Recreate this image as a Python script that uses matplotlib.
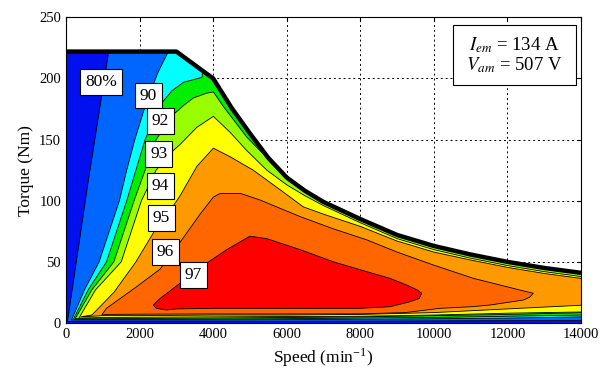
import matplotlib
matplotlib.use("Agg")
import matplotlib.pyplot as plt
from matplotlib.patches import Polygon, Rectangle

plt.rcParams['font.family'] = ['Liberation Serif', 'DejaVu Serif']
plt.rcParams['mathtext.fontset'] = 'stix'

# torque envelope (speed in min^-1, torque in Nm)
env_speed = [0, 3000, 4000, 4500, 5000, 5500, 6000, 6500, 7000, 8000, 9000, 10000, 11000, 12000, 13000, 14000]
env_torque = [222, 222, 200, 176, 155, 135, 119, 108, 99, 85, 72, 63, 56, 50, 45, 41]

# boundaries of the regions "efficiency >= level"
eff80_speed = [40, 600, 1160, 1300, 14500, 14500, 11000, 8000, 4000, 1000]
eff80_torque = [1.3, 115, 222, 250, 250, 2, 1.8, 1.5, 1.3, 1.3]

eff90_speed = [150, 500, 900, 1450, 1650, 1870, 2180, 2500, 2780, 2880, 14500, 14500,
               14000, 12000, 10000, 8000, 4000, 1000]
eff90_torque = [2.5, 27, 50, 100, 125, 150, 180, 205, 222, 250, 250, 5,
                5, 4, 3.5, 3, 2.5, 2.5]

eff92_speed = [200, 600, 1100, 1650, 1900, 2150, 2520, 2880, 3200, 3460, 3700, 3800, 14500, 14500,
               14000, 12000, 10000, 8000, 4000, 1000]
eff92_torque = [3, 27, 50, 100, 125, 150, 177, 190, 197, 199, 201, 250, 250, 6.5,
                6.5, 5.5, 4.5, 4, 3, 3]

eff93_speed = [250, 700, 1300, 1850, 2150, 2450, 2900, 3200, 3460, 3825, 4005, 4280, 4915, 5820,
               6000, 14500, 14500, 14000, 12000, 10000, 8000, 4000, 1000]
eff93_torque = [3.5, 27, 50, 100, 125, 150, 170, 178, 184, 188, 189, 177, 152, 124,
                150, 150, 8.4, 8.4, 7, 6, 5, 4, 3.5]

eff94_speed = [350, 800, 1500, 2050, 2450, 2800, 3100, 3555, 4005, 4460, 4915, 5460, 6000, 6500, 7000,
               8000, 9000, 10000, 11000, 12000, 13000, 14000, 14500,
               14500, 14000, 12000, 10000, 8000, 4000, 1000]
eff94_torque = [4, 27, 50, 100, 125, 138, 146, 160, 169, 156, 141, 125, 113, 104, 96,
                82, 69, 60, 53, 47, 42, 38, 37,
                9, 9, 8, 6.5, 5.5, 5, 4.5]

eff95_speed = [400, 700, 835, 1300, 1900, 2400, 2830, 3100, 3555, 4005, 4460, 5090, 5820, 6450, 7000,
               8000, 9000, 10000, 11000, 12000, 13000, 14000, 14500,
               14500, 14000, 13000, 12000, 11000, 10000, 8000, 6000, 4000, 2000, 1000]
eff95_torque = [5, 6.5, 10.6, 25, 50, 75, 92, 104, 128, 143, 136, 125, 109, 95, 89,
                79, 67, 58, 51.5, 45.5, 40.5, 36.5, 35.5,
                14.5, 14.5, 13, 11.5, 10, 8.5, 7, 6.5, 6.5, 6, 6]

eff96_speed = [970, 1100, 1920, 2555, 3100, 3645, 4005, 4190, 4740, 5275, 6365, 7270, 8175, 9000,
               9990, 11075, 11980, 12400, 12705, 12600, 12435, 11530, 11030, 10170, 9220,
               8000, 6000, 4000, 2000, 1100]
eff96_torque = [6.5, 12, 29.7, 44, 66, 89, 103, 106, 106, 100.6, 87, 77, 68, 58,
                47.4, 36.5, 29.7, 26.5, 24.3, 21, 18.8, 14.7, 13.3, 12, 8.5,
                7.5, 7.4, 7.4, 7.2, 7]

eff97_speed = [2375, 2555, 3100, 3825, 4370, 5000, 5455, 6365, 7270, 8175, 8810, 9265, 9550, 9670,
               9600, 9355, 8810, 8000, 6000, 4000, 3000, 2740, 2450]
eff97_torque = [14.7, 20, 32.5, 49, 60, 71, 69, 60, 50, 42, 36.5, 31, 27, 24.3,
                20, 17.4, 13.3, 12, 12, 12, 11.5, 10.6, 12]

regions = [
    (eff80_speed, eff80_torque, '#0066ff'),
    (eff90_speed, eff90_torque, '#00ffff'),
    (eff92_speed, eff92_torque, '#00ee00'),
    (eff93_speed, eff93_torque, '#99ff00'),
    (eff94_speed, eff94_torque, '#ffff00'),
    (eff95_speed, eff95_torque, '#ff9900'),
    (eff96_speed, eff96_torque, '#ff6600'),
    (eff97_speed, eff97_torque, '#ff0000'),
]

label_text = ['80%', '90', '92', '93', '94', '95', '96', '97']
label_speed = [950, 2230, 2556, 2520, 2556, 2583, 2692, 3453]
label_torque = [197, 186, 165.5, 138.3, 112, 86, 58, 39.2]

fig = plt.figure(figsize=(6.08, 3.83), dpi=100)
ax = fig.add_axes([0.1086, 0.1567, 0.847, 0.798])

# area under the envelope, lowest efficiency colour
env_pts = list(zip(env_speed, env_torque)) + [(14000, 0), (0, 0)]
env_patch = Polygon(env_pts, closed=True, facecolor='#0010ee', edgecolor='none', zorder=2)
ax.add_patch(env_patch)

for sp, tq, col in regions:
    p = Polygon(list(zip(sp, tq)), closed=True, facecolor=col, edgecolor='k', lw=0.6, zorder=3)
    ax.add_patch(p)
    p.set_clip_path(env_patch)

ax.plot(env_speed, env_torque, color='k', lw=3.2, zorder=5, solid_capstyle='butt')

for s, x, y in zip(label_text, label_speed, label_torque):
    ax.text(x, y, s, ha='center', va='center', fontsize=12.5, zorder=6,
            bbox=dict(boxstyle='square,pad=0.28', fc='white', ec='k', lw=0.8))

ax.add_patch(Rectangle((0.752, 0.7785), 0.238, 0.1965, transform=ax.transAxes,
                       fc='white', ec='k', lw=0.8, zorder=6))
ax.text(0.871, 0.91, '$I_{em}$ = 134 A', transform=ax.transAxes, ha='center', va='center',
        fontsize=13.5, zorder=7)
ax.text(0.871, 0.842, '$V_{am}$ = 507 V', transform=ax.transAxes, ha='center', va='center',
        fontsize=13.5, zorder=7)

ax.set_xlim(0, 14000)
ax.set_ylim(0, 250)
ax.set_xticks(range(0, 14001, 2000))
ax.set_yticks(range(0, 251, 50))
ax.set_axisbelow(True)
ax.grid(True, color='k', linestyle=(0, (2, 3)), lw=0.7)
ax.tick_params(direction='in', top=True, right=True, labelsize=10.5, length=3)
for sp in ax.spines.values():
    sp.set_linewidth(0.8)
    sp.set_zorder(8)

ax.set_xlabel('Speed (min$^{\\mathregular{-1}}$)', fontsize=12.5, labelpad=4)
ax.set_ylabel('Torque (Nm)', fontsize=12.5, labelpad=4)

fig.savefig('out.png', dpi=100)
